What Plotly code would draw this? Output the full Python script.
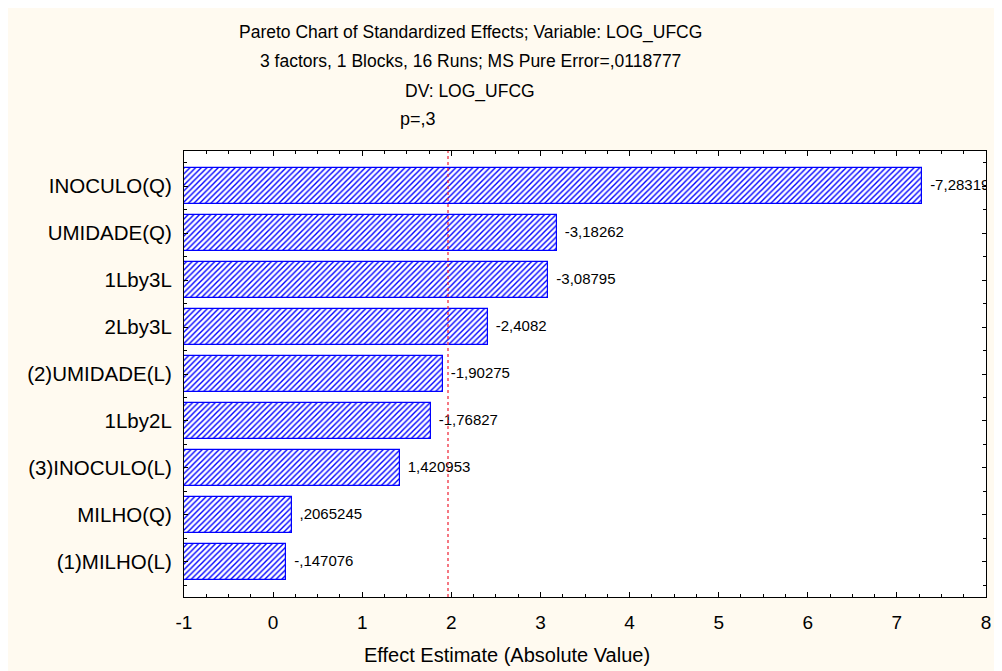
import plotly.graph_objects as go

# ---------------- data ----------------
factors = ["INOCULO(Q)", "UMIDADE(Q)", "1Lby3L", "2Lby3L", "(2)UMIDADE(L)",
           "1Lby2L", "(3)INOCULO(L)", "MILHO(Q)", "(1)MILHO(L)"]
effects = [-7.28319, -3.18262, -3.08795, -2.4082, -1.90275,
           -1.76827, 1.420953, 0.2065245, -0.147076]
critical_t = 1.9626
p_label = "p=,3"
title_lines = ["Pareto Chart of Standardized Effects; Variable: LOG_UFCG",
               "3 factors, 1 Blocks, 16 Runs; MS Pure Error=,0118777",
               "DV: LOG_UFCG"]
x_title = "Effect Estimate (Absolute Value)"
x_ticks = [-1, 0, 1, 2, 3, 4, 5, 6, 7, 8]


def fmt(v):
    s = repr(v)
    if abs(v) < 1:
        s = s.replace("0.", ".", 1)
    return s.replace(".", ",")


# ---------------- geometry ----------------
W, H = 994, 663
ML, MR, MT, MB = 176, 16, 143, 74
PW, PH = W - ML - MR, H - MT - MB


def px_x(x):
    return (x - 8 - ML) / PW


def px_y(y):
    return 1 - (y - 8 - MT) / PH


FONT = "Liberation Sans, Arial, sans-serif"
CREAM = "#FFFAF0"
BLUE = "#0000FF"

x_min, x_max = x_ticks[0], x_ticks[-1]
ypos = list(range(len(factors)))
absv = [abs(v) for v in effects]

fig = go.Figure()
fig.add_trace(go.Bar(
    y=ypos, x=[a - x_min for a in absv], base=x_min, orientation="h",
    width=0.76,
    marker=dict(color="white", line=dict(color=BLUE, width=1.2),
                pattern=dict(shape="/", fgcolor=BLUE, bgcolor="white",
                             size=4, solidity=0.35, fillmode="replace")),
    hoverinfo="skip", showlegend=False,
))
fig.add_trace(go.Scatter(
    y=ypos, x=[a + 0.09 for a in absv], mode="text",
    text=[fmt(v) for v in effects], textposition="middle right",
    textfont=dict(family=FONT, size=15, color="black"),
    cliponaxis=True, hoverinfo="skip", showlegend=False,
))

fig.add_shape(type="line", xref="x", yref="paper", x0=critical_t, x1=critical_t,
              y0=0, y1=1, line=dict(color="#F03040", width=1.3, dash="3px,3px"),
              layer="above")

annotations = []
for t, yy in zip(title_lines, [32, 61, 91]):
    annotations.append(dict(text=t, xref="paper", yref="paper", x=px_x(470), y=px_y(yy),
                            xanchor="center", yanchor="middle", showarrow=False,
                            font=dict(family=FONT, size=17.5, color="black")))
annotations.append(dict(text=p_label, xref="x", yref="paper", x=critical_t, y=px_y(119),
                        xanchor="right", yanchor="middle", xshift=-10, showarrow=False,
                        font=dict(family=FONT, size=18, color="black")))
annotations.append(dict(text=x_title, xref="paper", yref="paper", x=px_x(507), y=px_y(655),
                        xanchor="center", yanchor="middle", showarrow=False,
                        font=dict(family=FONT, size=20, color="black")))

fig.update_layout(
    width=W, height=H,
    margin=dict(l=ML, r=MR, t=MT, b=MB, pad=0),
    paper_bgcolor=CREAM, plot_bgcolor="white",
    annotations=annotations,
    bargap=0,
    xaxis=dict(range=[x_min, x_max], tickmode="array", tickvals=x_ticks,
               ticktext=[str(v) for v in x_ticks], ticks="inside", ticklen=5,
               tickcolor="black", showline=True, linecolor="black", linewidth=1.2,
               mirror="ticks", showgrid=False, zeroline=False,
               tickfont=dict(family=FONT, size=19, color="black"),
               ticklabelstandoff=8,
               minor=dict(tickmode="linear", tick0=0, dtick=0.25, ticks="inside",
                          ticklen=3, tickcolor="black", showgrid=False)),
    yaxis=dict(range=[len(factors) - 0.25, -0.75], tickmode="array", tickvals=ypos,
               ticktext=factors, ticks="inside", ticklen=4, tickcolor="black",
               showline=True, linecolor="black", linewidth=1.2, mirror="ticks",
               showgrid=False, zeroline=False,
               tickfont=dict(family=FONT, size=20.5, color="black"),
               ticklabelstandoff=7,
               minor=dict(tickmode="linear", tick0=0.5, dtick=1, ticks="inside",
                          ticklen=3, tickcolor="black", showgrid=False)),
)

fig.write_html("out.html")
